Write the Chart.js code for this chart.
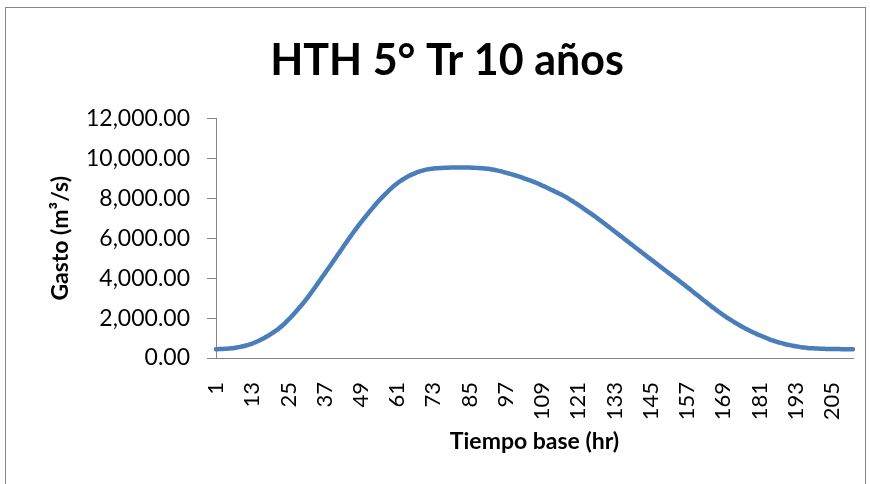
<!DOCTYPE html>
<html>
<head>
<meta charset="utf-8">
<script src="https://cdn.jsdelivr.net/npm/chart.js@4.4.0/dist/chart.umd.min.js"></script>
<style>
  html, body { margin: 0; padding: 0; background: #ffffff; }
  canvas { display: block; }
</style>
</head>
<body>
<canvas id="hthChart" width="870" height="484"></canvas>
<script>
// Datos del hidrograma (Gasto en m3/s por hora)
var chartTitle = 'HTH 5° Tr 10 años';
var xTitle = 'Tiempo base (hr)';
var yTitle = 'Gasto (m³/s)';
var yTicks = [0, 2000, 4000, 6000, 8000, 10000, 12000];
var labelStep = 12;

var gasto = [
  440, 445, 450, 458, 470, 485, 505, 530, 558, 590,
  630, 675, 725, 785, 850, 925, 1005, 1090, 1180, 1280,
  1390, 1505, 1630, 1770, 1920, 2080, 2245, 2415, 2590, 2770,
  2965, 3165, 3370, 3585, 3800, 4015, 4230, 4445, 4660, 4880,
  5100, 5320, 5540, 5760, 5980, 6190, 6395, 6600, 6800, 6990,
  7175, 7360, 7540, 7720, 7890, 8050, 8205, 8355, 8495, 8630,
  8750, 8860, 8960, 9050, 9130, 9205, 9270, 9327, 9378, 9420,
  9455, 9480, 9500, 9512, 9520, 9528, 9535, 9541, 9546, 9550,
  9552, 9553, 9552, 9549, 9545, 9538, 9530, 9521, 9511, 9500,
  9482, 9461, 9436, 9406, 9370, 9332, 9290, 9248, 9205, 9160,
  9112, 9062, 9010, 8956, 8900, 8843, 8783, 8718, 8650, 8580,
  8510, 8438, 8364, 8290, 8220, 8140, 8055, 7965, 7870, 7770,
  7670, 7570, 7468, 7365, 7260, 7152, 7042, 6930, 6816, 6700,
  6584, 6468, 6352, 6236, 6120, 6002, 5884, 5766, 5648, 5530,
  5414, 5298, 5182, 5066, 4950, 4834, 4718, 4602, 4486, 4370,
  4256, 4142, 4028, 3914, 3800, 3682, 3563, 3443, 3322, 3200,
  3080, 2960, 2840, 2720, 2600, 2487, 2376, 2266, 2157, 2050,
  1954, 1860, 1768, 1678, 1590, 1510, 1432, 1356, 1282, 1210,
  1145, 1082, 1020, 960, 900, 850, 802, 757, 717, 680,
  648, 618, 590, 564, 540, 522, 506, 493, 483, 475,
  468, 462, 457, 453, 450, 448, 446, 444, 442, 441,
  440, 440
];

var horas = [];
for (var i = 0; i < gasto.length; i++) {
  horas.push(String(i + 1));
}

function formatNumero(v) {
  return v.toLocaleString('en-US', { minimumFractionDigits: 2, maximumFractionDigits: 2 });
}

var gris = '#868686';
var fuente = 'Lato, "Open Sans", sans-serif';

// Marco exterior del grafico
var marco = {
  id: 'marco',
  beforeDraw: function(chart) {
    var ctx = chart.ctx;
    ctx.save();
    ctx.fillStyle = '#ffffff';
    ctx.fillRect(0, 0, chart.width, chart.height);
    ctx.strokeStyle = gris;
    ctx.lineWidth = 1;
    ctx.strokeRect(5.5, 7.5, 860, 520);
    ctx.restore();
  }
};

var ctx = document.getElementById('hthChart').getContext('2d');
var hthChart = new Chart(ctx, {
  type: 'line',
  data: {
    labels: horas,
    datasets: [{
      label: 'Gasto',
      data: gasto,
      borderColor: '#4A7EBB',
      borderWidth: 4.5,
      borderCapStyle: 'round',
      pointRadius: 0,
      fill: false,
      tension: 0.4
    }]
  },
  options: {
    responsive: false,
    animation: false,
    devicePixelRatio: 1,
    layout: { padding: { left: 41, right: 17, top: 0, bottom: 0 } },
    plugins: {
      legend: { display: false },
      tooltip: { enabled: false },
      title: {
        display: true,
        text: chartTitle,
        color: '#000000',
        font: { family: fuente, size: 43, weight: 'bold' },
        padding: { top: 35, bottom: 32 }
      }
    },
    scales: {
      x: {
        grid: { display: false },
        border: { color: gris, width: 1 },
        afterFit: function(s) {
          s.height = 126;
          s.paddingLeft = 0;
          s.paddingRight = 0;
        },
        ticks: {
          autoSkip: false,
          minRotation: 90,
          maxRotation: 90,
          padding: 16,
          color: '#000000',
          font: { family: fuente, size: 22 },
          callback: function(val, idx) {
            return idx % labelStep === 0 ? this.getLabelForValue(val) : '';
          }
        },
        title: {
          display: true,
          text: xTitle,
          color: '#000000',
          font: { family: fuente, size: 23, weight: 'bold' },
          padding: { top: 0, bottom: 29 }
        }
      },
      y: {
        min: yTicks[0],
        max: yTicks[yTicks.length - 1],
        afterFit: function(s) { s.width = 175; },
        afterBuildTicks: function(s) {
          s.ticks = yTicks.map(function(v) { return { value: v }; });
        },
        grid: { display: true, drawOnChartArea: false, tickLength: 9, color: gris },
        border: { color: gris, width: 1 },
        ticks: {
          padding: 17,
          color: '#000000',
          font: { family: fuente, size: 23 },
          callback: function(v) { return formatNumero(v); }
        },
        title: {
          display: true,
          text: yTitle,
          color: '#000000',
          font: { family: fuente, size: 23, weight: 'bold' },
          padding: { top: 6, bottom: 0 }
        }
      }
    }
  },
  plugins: [marco]
});
</script>
</body>
</html>
